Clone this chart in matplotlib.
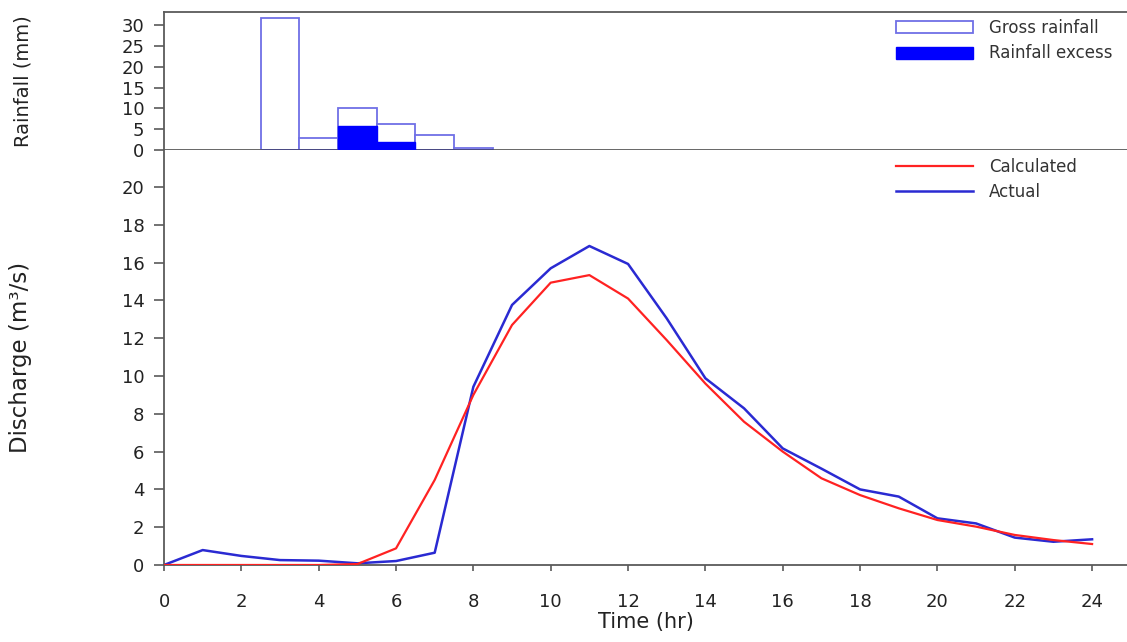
import matplotlib
matplotlib.use("Agg")
import matplotlib.pyplot as plt
from matplotlib.patches import Patch

plt.rcParams['font.family'] = ['DejaVu Sans']

# Rainfall data (hourly blocks)
rain_time = [3, 4, 5, 6, 7, 8]
gross_rainfall = [31.6, 3.0, 10.1, 6.2, 3.6, 0.6]
rainfall_excess = [0.0, 0.0, 5.75, 2.0, 0.0, 0.0]

# Discharge data
hours = list(range(0, 25))
calculated = [0, 0, 0, 0, 0, 0.05, 0.88, 4.5, 9.0, 12.7, 14.94, 15.34, 14.1,
              11.9, 9.6, 7.58, 6.0, 4.59, 3.7, 3.0, 2.38, 2.03, 1.59, 1.32, 1.11]
actual = [0, 0.79, 0.48, 0.26, 0.23, 0.09, 0.21, 0.65, 9.43, 13.76, 15.7, 16.88,
          15.93, 13.05, 9.88, 8.29, 6.17, 5.1, 4.0, 3.62, 2.47, 2.2, 1.45, 1.23, 1.36]

x_ticks = list(range(0, 25, 2))
q_ticks = list(range(0, 21, 2))
r_ticks = list(range(0, 31, 5))

gross_edge = '#6f6fe6'
excess_col = '#0000ff'
red = '#ff2222'
blue = '#2a2ad2'
spine_col = '#5a5a5a'
text_col = '#222222'

fig = plt.figure(figsize=(11.27, 6.42), dpi=100)
left = 164 / 1127
width = 1 - left
ax_r = fig.add_axes([left, 1 - 150 / 642, width, (150 - 11.7) / 642])
ax_q = fig.add_axes([left, 1 - 565 / 642, width, (565 - 150) / 642])

xlim = (0, (1127 - 164) / 38.67)
leg_x = (896 - 164) / 963

# Rainfall panel
ax_r.bar(rain_time, gross_rainfall, width=1.0, facecolor='white',
         edgecolor=gross_edge, linewidth=1.3, zorder=2)
ax_r.bar(rain_time, rainfall_excess, width=1.0, facecolor=excess_col,
         edgecolor=excess_col, linewidth=1.0, zorder=3)
ax_r.set_xlim(*xlim)
ax_r.set_ylim(0, 33.2)
ax_r.set_yticks(r_ticks)
ax_r.set_xticks([])
ax_r.spines['right'].set_visible(False)
for s in ['top', 'bottom', 'left']:
    ax_r.spines[s].set_color(spine_col)
    ax_r.spines[s].set_linewidth(1.3)
ax_r.tick_params(axis='y', direction='out', length=7, width=1.2, color=spine_col,
                 labelsize=13, labelcolor=text_col, pad=7)
ax_r.set_ylabel('Rainfall (mm)', fontsize=14, color=text_col)
ax_r.yaxis.set_label_coords(-0.137, 0.5)

h_r = [Patch(facecolor='white', edgecolor=gross_edge, linewidth=1.3),
       Patch(facecolor=excess_col, edgecolor=excess_col)]
leg1 = ax_r.legend(h_r, ['Gross rainfall', 'Rainfall excess'], loc='upper left',
                   bbox_to_anchor=(leg_x, (150 - 19) / 138.3), frameon=False,
                   fontsize=12, handlelength=4.6, handleheight=0.7,
                   labelspacing=0.45, handletextpad=1.0,
                   borderpad=0, borderaxespad=0)
for t in leg1.get_texts():
    t.set_color('#333333')

# Discharge panel
ax_q.plot(hours, calculated, color=red, linewidth=1.6, label='Calculated', zorder=3)
ax_q.plot(hours, actual, color=blue, linewidth=1.8, label='Actual', zorder=2)
ax_q.set_xlim(*xlim)
ax_q.set_ylim(0, 21.96)
ax_q.set_xticks(x_ticks)
ax_q.set_yticks(q_ticks)
ax_q.spines['right'].set_visible(False)
ax_q.spines['top'].set_visible(False)
for s in ['bottom', 'left']:
    ax_q.spines[s].set_color(spine_col)
    ax_q.spines[s].set_linewidth(1.3)
ax_q.tick_params(axis='y', direction='out', length=7, width=1.2, color=spine_col,
                 labelsize=13, labelcolor=text_col, pad=7)
ax_q.tick_params(axis='x', direction='out', length=4, width=1.2, color=spine_col,
                 labelsize=13, labelcolor=text_col, pad=16)
ax_q.set_xlabel('Time (hr)', fontsize=15, color=text_col, labelpad=1)
ax_q.set_ylabel('Discharge (m³/s)', fontsize=16.5, color=text_col)
ax_q.yaxis.set_label_coords(-0.137, 0.5)

leg2 = ax_q.legend(loc='upper left', bbox_to_anchor=(leg_x, (565 - 158) / 415),
                   frameon=False, fontsize=12, handlelength=4.6,
                   labelspacing=0.4, handletextpad=1.0,
                   borderpad=0, borderaxespad=0)
for t in leg2.get_texts():
    t.set_color('#333333')

fig.savefig('out.png', dpi=100)
